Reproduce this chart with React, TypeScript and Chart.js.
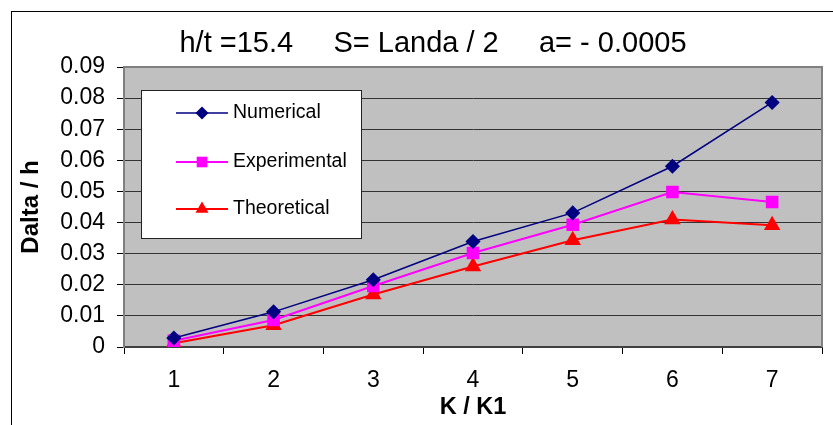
import React, { useEffect, useRef } from "react";
import { Chart, registerables } from "chart.js";

Chart.register(...registerables);

const categories = ["1", "2", "3", "4", "5", "6", "7"];
const numerical = [0.0029, 0.0113, 0.0216, 0.0339, 0.0431, 0.0581, 0.0786];
const experimental = [0.002, 0.0087, 0.0196, 0.0302, 0.0393, 0.0498, 0.0466];
const theoretical = [0.0012, 0.007, 0.0169, 0.0259, 0.0343, 0.041, 0.0391];
const titleText = "h/t =15.4     S= Landa / 2     a= - 0.0005";
const xTitle = "K / K1";
const yTitle = "Dalta / h";

const FONT = "'Liberation Sans', Arial, sans-serif";

export default function App() {
  const ref = useRef<HTMLCanvasElement>(null);

  useEffect(() => {
    if (!ref.current) return;

    const framePlugin = {
      id: "frame",
      beforeDraw(chart: any) {
        const { ctx, width, height, chartArea } = chart;
        ctx.save();
        ctx.fillStyle = "#ffffff";
        ctx.fillRect(0, 0, width, height);
        ctx.strokeStyle = "#000000";
        ctx.lineWidth = 1;
        ctx.strokeRect(11.5, 11.5, width + 20, height + 20);
        ctx.fillStyle = "#C0C0C0";
        ctx.fillRect(chartArea.left, chartArea.top, chartArea.right - chartArea.left, chartArea.bottom - chartArea.top);
        ctx.fillStyle = "#000";
        ctx.font = `29px ${FONT}`;
        ctx.textAlign = "center";
        ctx.textBaseline = "middle";
        ctx.fillText(titleText, 433, 44);
        ctx.restore();
      },
      beforeDatasetsDraw(chart: any) {
        const { ctx, chartArea } = chart;
        ctx.save();
        ctx.strokeStyle = "#808080";
        ctx.lineWidth = 2;
        ctx.beginPath();
        ctx.moveTo(chartArea.left, chartArea.top);
        ctx.lineTo(chartArea.right, chartArea.top);
        ctx.lineTo(chartArea.right, chartArea.bottom);
        ctx.stroke();
        ctx.restore();
      },
      afterDraw(chart: any) {
        const { ctx } = chart;
        ctx.save();
        const bx = 141, by = 90, bw = 220, bh = 148;
        ctx.fillStyle = "#ffffff";
        ctx.fillRect(bx, by, bw, bh);
        ctx.strokeStyle = "#222";
        ctx.lineWidth = 1;
        ctx.strokeRect(bx + 0.5, by + 0.5, bw, bh);
        const rows = [113, 162, 209];
        chart.data.datasets.forEach((ds: any, i: number) => {
          const y = rows[i];
          ctx.strokeStyle = ds.borderColor;
          ctx.lineWidth = ds.borderWidth;
          ctx.beginPath();
          ctx.moveTo(176, y);
          ctx.lineTo(228, y);
          ctx.stroke();
          ctx.fillStyle = ds.pointBackgroundColor;
          const r = ds.pointRadius;
          ctx.beginPath();
          if (ds.pointStyle === "rectRot") {
            ctx.moveTo(202, y - r); ctx.lineTo(202 + r, y); ctx.lineTo(202, y + r); ctx.lineTo(202 - r, y);
          } else if (ds.pointStyle === "rect") {
            const s = r * Math.SQRT1_2;
            ctx.rect(202 - s, y - s, s * 2, s * 2);
          } else {
            ctx.moveTo(202, y - r); ctx.lineTo(202 + r * 0.866, y + r * 0.5); ctx.lineTo(202 - r * 0.866, y + r * 0.5);
          }
          ctx.closePath();
          ctx.fill();
          ctx.fillStyle = "#000";
          ctx.font = `19.5px ${FONT}`;
          ctx.textAlign = "left";
          ctx.textBaseline = "middle";
          ctx.fillText(ds.label, 233, y);
        });
        ctx.restore();
      },
    };

    const chart = new Chart(ref.current, {
      type: "line",
      data: {
        labels: categories,
        datasets: [
          {
            label: "Numerical",
            data: numerical,
            borderColor: "#000080",
            backgroundColor: "#000080",
            pointBackgroundColor: "#000080",
            pointBorderColor: "#000080",
            borderWidth: 1.5,
            pointStyle: "rectRot",
            pointRadius: 6.5,
          },
          {
            label: "Experimental",
            data: experimental,
            borderColor: "#FF00FF",
            backgroundColor: "#FF00FF",
            pointBackgroundColor: "#FF00FF",
            pointBorderColor: "#FF00FF",
            borderWidth: 2,
            pointStyle: "rect",
            pointRadius: 7.5,
          },
          {
            label: "Theoretical",
            data: theoretical,
            borderColor: "#FF0000",
            backgroundColor: "#FF0000",
            pointBackgroundColor: "#FF0000",
            pointBorderColor: "#FF0000",
            borderWidth: 2,
            pointStyle: "triangle",
            pointRadius: 7.5,
          },
        ] as any,
      },
      options: {
        animation: false,
        responsive: false,
        devicePixelRatio: 1,
        layout: { padding: { left: 12, top: 67, right: 11, bottom: 0 } },
        plugins: {
          legend: { display: false },
          title: { display: false },
          tooltip: { enabled: false },
        },
        scales: {
          x: {
            offset: true,
            grid: {
              offset: true,
              drawOnChartArea: false,
              drawTicks: true,
              tickLength: 7,
              tickColor: "#000",
            },
            border: { color: "#404040", width: 2 },
            ticks: {
              color: "#000",
              padding: 13,
              font: { family: FONT, size: 23 },
              maxRotation: 0,
            },
            title: {
              display: true,
              text: xTitle,
              color: "#000",
              font: { family: FONT, size: 23.5, weight: "bold" },
              padding: { top: 0, bottom: 3 },
            },
            afterFit(scale: any) {
              scale.height = 425 - 347;
            },
          },
          y: {
            min: 0,
            max: 0.09,
            grid: {
              color: "#333",
              lineWidth: 1,
              tickLength: 7,
              tickColor: "#000",
            },
            border: { color: "#808080", width: 2 },
            ticks: {
              stepSize: 0.01,
              color: "#000",
              padding: 12,
              font: { family: FONT, size: 23 },
              callback: (v: any) => String(Math.round(Number(v) * 100) / 100),
            },
            title: {
              display: true,
              text: yTitle,
              color: "#000",
              font: { family: FONT, size: 24, weight: "bold" },
              padding: { top: 5, bottom: 0 },
            },
            afterFit(scale: any) {
              scale.width = 124 - 12;
            },
          },
        },
      },
      plugins: [framePlugin],
    } as any);

    return () => chart.destroy();
  }, []);

  return (
    <div style={{ position: "fixed", left: 0, top: 0, width: 833, height: 425, background: "#fff" }}>
      <canvas ref={ref} width={833} height={425} style={{ display: "block", width: 833, height: 425 }} />
    </div>
  );
}
